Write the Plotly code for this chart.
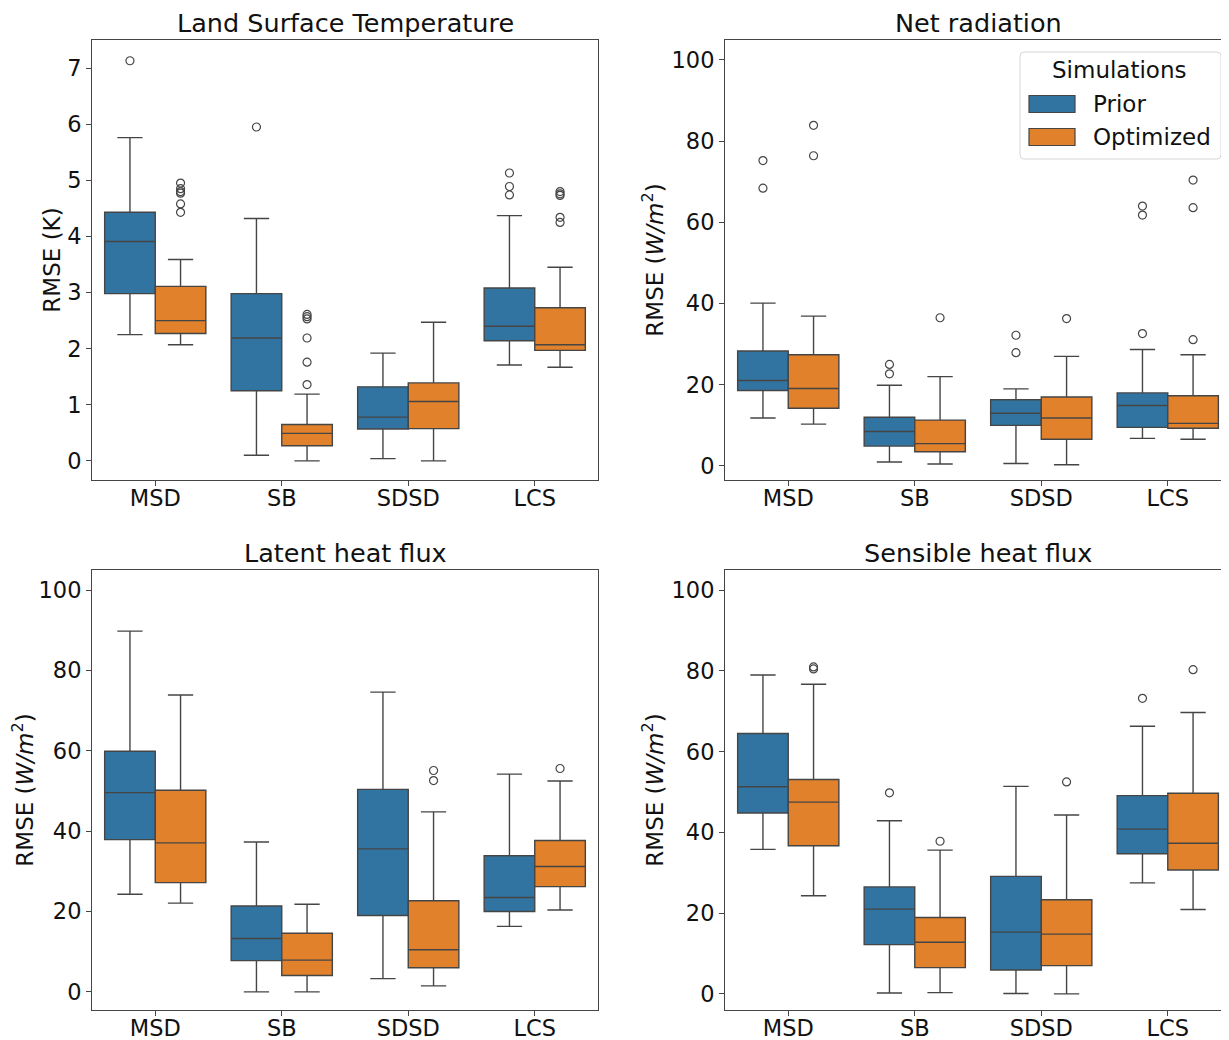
import plotly.graph_objects as go

categories = ["MSD", "SB", "SDSD", "LCS"]
series_names = ["Prior", "Optimized"]
panel_titles = ["Land Surface Temperature", "Net radiation", "Latent heat flux", "Sensible heat flux"]
y_titles = ["RMSE (K)", "RMSE (<i>W/m</i><sup>2</sup>)", "RMSE (<i>W/m</i><sup>2</sup>)", "RMSE (<i>W/m</i><sup>2</sup>)"]

# order in every list: MSD, SB, SDSD, LCS
lst_prior_q1 = [2.98, 1.25, 0.57, 2.14]
lst_prior_med = [3.91, 2.19, 0.78, 2.40]
lst_prior_q3 = [4.43, 2.98, 1.32, 3.08]
lst_prior_lo = [2.25, 0.10, 0.04, 1.71]
lst_prior_hi = [5.76, 4.32, 1.92, 4.37]
lst_prior_out = [[7.13], [5.95], [], [5.13, 4.89, 4.74]]
lst_opt_q1 = [2.27, 0.27, 0.575, 1.97]
lst_opt_med = [2.50, 0.49, 1.06, 2.07]
lst_opt_q3 = [3.11, 0.65, 1.39, 2.73]
lst_opt_lo = [2.07, 0.0, 0.0, 1.67]
lst_opt_hi = [3.59, 1.19, 2.47, 3.45]
lst_opt_out = [[4.95, 4.85, 4.80, 4.77, 4.58, 4.43], [2.61, 2.57, 2.53, 2.19, 1.76, 1.36], [], [4.80, 4.76, 4.73, 4.34, 4.25]]

net_prior_q1 = [18.6, 4.9, 10.0, 9.5]
net_prior_med = [21.05, 8.5, 13.0, 14.9]
net_prior_q3 = [28.3, 12.0, 16.3, 18.0]
net_prior_lo = [11.8, 1.0, 0.6, 6.8]
net_prior_hi = [40.1, 19.9, 19.0, 28.7]
net_prior_out = [[75.2, 68.4], [25.0, 22.7], [32.2, 27.9], [64.0, 61.8, 32.6]]
net_opt_q1 = [14.2, 3.5, 6.6, 9.3]
net_opt_med = [19.1, 5.5, 11.8, 10.5]
net_opt_q3 = [27.4, 11.3, 17.0, 17.3]
net_opt_lo = [10.3, 0.5, 0.3, 6.6]
net_opt_hi = [36.9, 22.0, 27.0, 27.4]
net_opt_out = [[83.9, 76.4], [36.5], [36.3], [70.4, 63.6, 31.1]]

lat_prior_q1 = [37.9, 7.8, 19.0, 20.0]
lat_prior_med = [49.6, 13.3, 35.6, 23.5]
lat_prior_q3 = [59.9, 21.4, 50.4, 33.9]
lat_prior_lo = [24.3, 0.0, 3.3, 16.3]
lat_prior_hi = [89.8, 37.3, 74.6, 54.2]
lat_prior_out = [[], [], [], []]
lat_opt_q1 = [27.2, 4.1, 6.0, 26.2]
lat_opt_med = [37.1, 7.9, 10.5, 31.2]
lat_opt_q3 = [50.2, 14.6, 22.7, 37.7]
lat_opt_lo = [22.1, 0.0, 1.5, 20.4]
lat_opt_hi = [73.9, 21.8, 44.8, 52.5]
lat_opt_out = [[], [], [55.1, 52.6], [55.6]]

sen_prior_q1 = [44.8, 12.2, 5.9, 34.7]
sen_prior_med = [51.3, 21.0, 15.3, 40.8]
sen_prior_q3 = [64.5, 26.5, 29.1, 49.1]
sen_prior_lo = [35.8, 0.2, 0.1, 27.5]
sen_prior_hi = [79.0, 42.9, 51.4, 66.3]
sen_prior_out = [[], [49.8], [], [73.2]]
sen_opt_q1 = [36.7, 6.5, 7.0, 30.7]
sen_opt_med = [47.5, 12.8, 14.8, 37.3]
sen_opt_q3 = [53.1, 18.9, 23.3, 49.7]
sen_opt_lo = [24.3, 0.3, 0.0, 20.9]
sen_opt_hi = [76.7, 35.6, 44.3, 69.7]
sen_opt_out = [[81.0, 80.5], [37.8], [52.5], [80.3]]

panels = [
    [(lst_prior_q1, lst_prior_med, lst_prior_q3, lst_prior_lo, lst_prior_hi, lst_prior_out),
     (lst_opt_q1, lst_opt_med, lst_opt_q3, lst_opt_lo, lst_opt_hi, lst_opt_out)],
    [(net_prior_q1, net_prior_med, net_prior_q3, net_prior_lo, net_prior_hi, net_prior_out),
     (net_opt_q1, net_opt_med, net_opt_q3, net_opt_lo, net_opt_hi, net_opt_out)],
    [(lat_prior_q1, lat_prior_med, lat_prior_q3, lat_prior_lo, lat_prior_hi, lat_prior_out),
     (lat_opt_q1, lat_opt_med, lat_opt_q3, lat_opt_lo, lat_opt_hi, lat_opt_out)],
    [(sen_prior_q1, sen_prior_med, sen_prior_q3, sen_prior_lo, sen_prior_hi, sen_prior_out),
     (sen_opt_q1, sen_opt_med, sen_opt_q3, sen_opt_lo, sen_opt_hi, sen_opt_out)],
]

COLORS = ["#3274a1", "#e1812c"]
EDGE = "#454545"
TXT = "#111111"
FONT = "DejaVu Sans"

# page geometry: the page body has an 8 px margin
OX, OY = 8, 8
W, H = 1221, 1032
def px(x): return (x - OX) / W
def py(y): return 1 - (y - OY) / H

rects = [(92, 598, 40, 480), (725, 1229, 40, 480), (92, 598, 570, 1010), (725, 1229, 570, 1010)]
yranges = [(-0.34, 7.5), (-3.45, 104.9), (-4.5, 105), (-4.0, 105)]
ydtick = [1, 20, 20, 20]
xranges = [(-0.5, 3.5), (-0.5, 3.484), (-0.5, 3.5), (-0.5, 3.484)]
y_standoff = [0, 1, 12, 1]

fig = go.Figure()
layout = dict(
    width=W, height=H, margin=dict(l=0, r=0, t=0, b=0), autosize=False,
    paper_bgcolor="white", plot_bgcolor="white", showlegend=False,
    boxmode="group", boxgap=0.2, boxgroupgap=0.0,
    font=dict(family=FONT, color=TXT, size=23),
)
annotations = []
shapes = []
for i, panel in enumerate(panels):
    suffix = "" if i == 0 else str(i + 1)
    for j, (q1, med, q3, lo, hi, out) in enumerate(panel):
        # the median is inside the fences, so it is never drawn as a point; it only keeps each list non-empty
        samples = [[m] + o for m, o in zip(med, out)]
        fig.add_trace(go.Box(
            x=categories, y=samples, q1=q1, median=med, q3=q3, lowerfence=lo, upperfence=hi,
            name=series_names[j], offsetgroup=series_names[j], legendgroup=series_names[j],
            xaxis="x" + suffix, yaxis="y" + suffix,
            boxpoints="outliers", jitter=0, pointpos=0, whiskerwidth=0.5,
            fillcolor=COLORS[j], line=dict(color=EDGE, width=1.4),
            marker=dict(color="rgba(255,255,255,0)", size=8, opacity=1,
                        outliercolor="rgba(255,255,255,0)",
                        line=dict(color=EDGE, width=1.2, outliercolor=EDGE, outlierwidth=1.2)),
        ))
    l, r, t, b = rects[i]
    layout["xaxis" + suffix] = dict(
        domain=[px(l), px(r)], anchor="y" + suffix, range=list(xranges[i]), automargin=False,
        type="category", categoryorder="array", categoryarray=categories,
        showline=True, mirror=True, linecolor=EDGE, linewidth=1, showgrid=False, zeroline=False,
        ticks="outside", ticklen=5, tickwidth=1, tickcolor=EDGE, tickfont=dict(size=22.5, color=TXT),
        ticklabelstandoff=-7,
    )
    layout["yaxis" + suffix] = dict(
        domain=[py(b), py(t)], anchor="x" + suffix, range=list(yranges[i]), dtick=ydtick[i], tick0=0,
        automargin=False,
        showline=True, mirror=(i % 2 == 0), linecolor=EDGE, linewidth=1, showgrid=False, zeroline=False,
        ticks="outside", ticklen=5, tickwidth=1, tickcolor=EDGE, tickfont=dict(size=22.5, color=TXT),
        title=dict(text=y_titles[i], font=dict(size=23, color=TXT), standoff=y_standoff[i]),
    )
    annotations.append(dict(
        text=panel_titles[i], xref="paper", yref="paper", x=px(l + (598 - 92) / 2),
        y=py(t), xanchor="center", yanchor="bottom", showarrow=False, font=dict(size=25.5, color=TXT),
    ))

# legend inside the Net radiation panel
shapes.append(dict(type="path", xref="paper", yref="paper", layer="above",
    path="M {} {} L {} {} Q {} {} {} {} L {} {} Q {} {} {} {} L {} {} Q {} {} {} {} L {} {} Q {} {} {} {} Z".format(
        px(1024), py(52), px(1217), py(52), px(1221), py(52), px(1221), py(56),
        px(1221), py(155), px(1221), py(159), px(1217), py(159),
        px(1024), py(159), px(1020), py(159), px(1020), py(155),
        px(1020), py(56), px(1020), py(52), px(1024), py(52)),
    fillcolor="rgba(255,255,255,0.85)", line=dict(color="#d6d6d6", width=1)))
legend_rows = [(104, 0), (137, 1)]
for yc, j in legend_rows:
    shapes.append(dict(type="rect", xref="paper", yref="paper", layer="above",
        x0=px(1029), x1=px(1075), y0=py(yc - 8.5), y1=py(yc + 8.5),
        fillcolor=COLORS[j], line=dict(color=EDGE, width=1.2)))
    annotations.append(dict(text=series_names[j], xref="paper", yref="paper", x=px(1091), y=py(yc),
        xanchor="left", yanchor="middle", showarrow=False, font=dict(size=23, color=TXT)))
annotations.append(dict(text="Simulations", xref="paper", yref="paper", x=px(1119), y=py(70),
    xanchor="center", yanchor="middle", showarrow=False, font=dict(size=23, color=TXT)))

layout["annotations"] = annotations
layout["shapes"] = shapes
fig.update_layout(**layout)
fig.write_html("out.html")
